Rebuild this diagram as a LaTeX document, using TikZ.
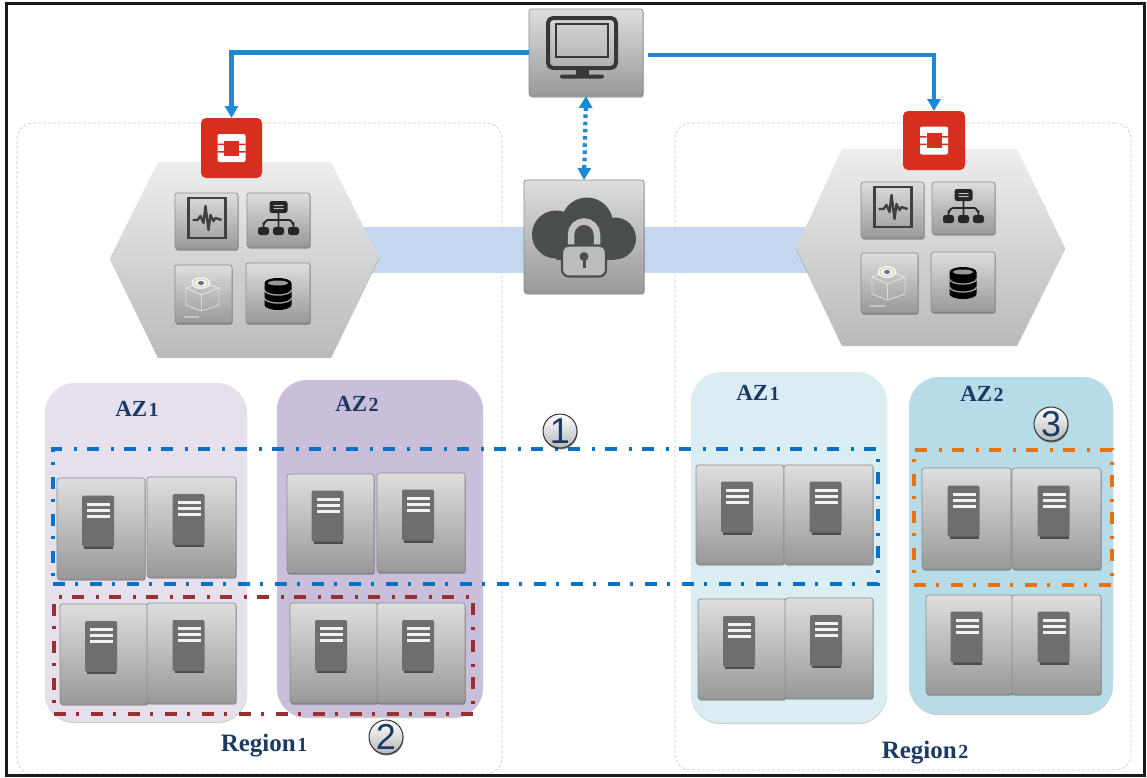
\documentclass[tikz,border=0pt]{standalone}
\usepackage{fontspec}
\usepackage{tikz}
\usetikzlibrary{shadows}
\usetikzlibrary{arrows.meta}
\usetikzlibrary{fit}
\newfontfamily\numfont{Liberation Sans}
\newfontfamily\labelfont{Liberation Serif}
\definecolor{linkblue}{HTML}{1F88D4}
\definecolor{navy}{HTML}{1B3A63}
\definecolor{bandblue}{HTML}{BDD2EC}
\definecolor{logored}{HTML}{D62E1F}
\definecolor{srvgrey}{HTML}{6D6E70}
\definecolor{clouddark}{HTML}{4A4E4F}
\definecolor{azpalea}{HTML}{E6DFEC}
\definecolor{azpaleb}{HTML}{CABFDA}
\definecolor{azbluea}{HTML}{DAEDF3}
\definecolor{azblueb}{HTML}{B7DCE7}
\definecolor{dashblue}{HTML}{0A70C4}
\definecolor{dashred}{HTML}{983030}
\definecolor{dashorange}{HTML}{E8700F}
\newcommand{\lownum}[1]{\hspace{1.5pt}{\fontsize{20}{20}\selectfont #1}}

\tikzset{
	boxfit/.style={inner sep=0,outer sep=0},
	btn/.style={boxfit,draw=gray!90,line width=.7pt,rounded corners=2.5pt,top color=black!13,bottom color=black!40,
		drop shadow={shadow xshift=.6pt,shadow yshift=-1.6pt,opacity=.35,fill=black}},
	region/.style={boxfit,draw=gray!45,densely dashed,line width=.6pt,rounded corners=16pt},
	azone/.style={boxfit,rounded corners=30pt,drop shadow={shadow xshift=0pt,shadow yshift=-1.2pt,opacity=.2,fill=black}},
	redbtn/.style={boxfit,fill=logored,rounded corners=5pt},
	hexface/.style={top color=black!7,bottom color=black!27,drop shadow={shadow xshift=0pt,shadow yshift=-1.2pt,opacity=.25,fill=black}},
	link/.style={draw=linkblue,line width=4.2pt,-{Triangle[length=12pt,width=13pt]}},
	dotlink/.style={draw=linkblue,line width=4.2pt,dash pattern=on 3.6pt off 3.6pt,{Triangle[length=12pt,width=13pt]}-{Triangle[length=12pt,width=13pt]}},
	dashbox/.style={boxfit,line width=3.5pt,dash pattern=on 12pt off 10pt on 3pt off 12pt},
	azlabel/.style={text=navy,font=\labelfont\bfseries\fontsize{23}{26}\selectfont,inner sep=0},
	reglabel/.style={text=navy,font=\labelfont\bfseries\fontsize{25}{28}\selectfont,inner sep=0},
	numcirc/.style={circle,draw=black!80,line width=1pt,minimum size=34pt,inner sep=0,text=navy,
		top color=white,bottom color=black!28,font=\numfont\fontsize{36}{36}\selectfont,
		drop shadow={shadow xshift=.5pt,shadow yshift=-1.5pt,opacity=.5,fill=black}},
	iconserver/.pic={
		\fill[black!70] (-17,15) rectangle (12,20);
		\fill[srvgrey,rounded corners=2pt] (-19,-33) rectangle (13,18);
		\foreach \y in {-26,-20,-14}
			\fill[white!95!black] (-14,\y) rectangle (9,\y+3);
	},
	iconwave/.pic={
		\draw[black!75,line width=2.4pt] (-18,-23) rectangle (19,17);
		\draw[black!75,line width=2.4pt,line join=round] (-14,-1) -- (-9,-1) -- (-6,-5) -- (-3,2) -- (-1,-15) -- (2,9) -- (4,-6) -- (7,0) -- (9,-3) -- (15,-1);
	},
	icontree/.pic={
		\fill[black!85,rounded corners=2.5pt] (-9,-19) rectangle (9,-7);
		\fill[black!25] (-5,-15) rectangle (5,-14) (-5,-12) rectangle (5,-11);
		\draw[black!85,line width=1.8pt] (0,-7) -- (0,9) (-15,9) -- (-15,4) to[out=-90,in=180] (-11,0) -- (11,0) to[out=0,in=-90] (15,4) -- (15,9);
		\foreach \x in {-15,0,15}
			\fill[black!85,rounded corners=2.5pt] (\x-5.5,7) rectangle (\x+5.5,15);
	},
	iconcube/.pic={
		\draw[white,opacity=.55,line width=.9pt] (-17.5,-6) -- (-2,-12) -- (15.5,-6) -- (15.5,11) -- (-2,17) -- (-17.5,11) -- cycle (-17.5,-6) -- (-2,1) -- (15.5,-6) (-2,1) -- (-2,17);
		\fill[white!90!gray] (-2.5,-11) ellipse (9.5 and 6);
		\draw[yellow!45!gray,line width=.7pt,opacity=.7] (-2.5,-11) ellipse (7 and 4);
		\fill[blue!15!gray] (-2.5,-11) ellipse (3 and 2);
		\fill[white,opacity=.4] (-20,22) rectangle (-5,24);
	},
	icondb/.pic={
		\begin{scope}[yshift=-1pt]
		\fill[black] (-13.5,-11) -- (-13.5,11) arc[start angle=180,end angle=0,x radius=13.5,y radius=5] -- (13.5,-11) arc[start angle=0,end angle=-180,x radius=13.5,y radius=5];
		\fill[black!40] (0,-11) ellipse (10 and 2.5);
		\draw[black!35,line width=1.3pt] (-13.5,-4) arc[start angle=180,end angle=0,x radius=13.5,y radius=5];
		\draw[black!35,line width=1.3pt] (-13.5,4) arc[start angle=180,end angle=0,x radius=13.5,y radius=5];
		\end{scope}
	},
	iconscreen/.pic={
		\draw[black!78,line width=4pt,rounded corners=5pt] (-38,-34.5) rectangle (30,15.5);
		\draw[black!78,line width=1.8pt] (-30,-28.5) rectangle (22,4.5);
		\fill[black!78] (-10,15) rectangle (3,23);
		\fill[black!78,rounded corners=2pt] (-26,22) rectangle (18,26);
	},
	iconcloud/.pic={
		\fill[clouddark] (-28,-2) circle (24);
		\fill[clouddark] (3,-13) circle (26);
		\fill[clouddark] (31,2) circle (21);
		\fill[clouddark] (-28,-2) rectangle (31,23);
		\draw[black!24,line width=6.5pt] (-13,10) -- (-13,-2) arc[start angle=180,end angle=360,radius=13] -- (13,10);
		\draw[clouddark,line width=2.2pt,fill=black!26,rounded corners=7pt] (-22,9) rectangle (22,40);
		\fill[clouddark] (0,20) circle (4.5);
		\draw[clouddark,line width=3pt] (0,20) -- (0,31);
	},
	iconlogo/.pic={
		\fill[white,rounded corners=2pt] (-14,-14) rectangle (14,14);
		\fill[logored] (-7.5,-7.5) rectangle (7.5,7.5);
		\fill[logored] (-14,-4.5) rectangle (-7.5,-3) (7.5,-4.5) rectangle (14,-3) (-14,3) rectangle (-7.5,4.5) (7.5,3) rectangle (14,4.5);
	}
}
\newcommand{\serverbtn}[5]{
	\node[btn,fit={(#2,#3) (#4,#5)}] (#1) {};
	\pic at (#1) {iconserver};
}
\newcommand{\iconbtn}[6]{
	\node[btn,fit={(#2,#3) (#4,#5)}] (#1) {};
	\pic at (#1) {#6};
}

\begin{document}
\begin{tikzpicture}[x=1pt,y=-1pt]
\useasboundingbox (0,0) rectangle (1147,777);

% regions
\node[region,fit={(17,123) (502,774)}] (region1) {};
\node[region,fit={(675,123) (1131,770)}] (region2) {};

% link between the two regions
\coordinate (bandl) at (360,250);
\coordinate (bandr) at (815,250);
\draw[bandblue,line width=46pt,opacity=.88] (bandl) -- (bandr);

% control planes
\path[hexface] (110,258) -- (158,162) -- (331,162) -- (379,258) -- (331,357) -- (158,357) -- cycle;
\path[hexface] (796,248) -- (842,149) -- (1017,149) -- (1065,248) -- (1017,345) -- (842,345) -- cycle;

\iconbtn{wavel}{175}{193}{238}{249}{iconwave}
\iconbtn{treel}{247}{193}{310}{247}{icontree}
\iconbtn{cubel}{175}{265}{232}{323}{iconcube}
\iconbtn{dbl}{246}{263}{310}{323}{icondb}
\iconbtn{waver}{861}{182}{924}{238}{iconwave}
\iconbtn{treer}{932}{182}{995}{234}{icontree}
\iconbtn{cuber}{861}{253}{918}{313}{iconcube}
\iconbtn{dbr}{931}{252}{995}{312}{icondb}

\node[redbtn,fit={(201,118) (262,178)}] (logol) {};
\pic at (logol) {iconlogo};
\node[redbtn,fit={(903,111) (965,170)}] (logor) {};
\pic at (logor) {iconlogo};

% dashboard and vpn
\iconbtn{screen}{529}{9}{643}{96}{iconscreen}
\iconbtn{vpn}{524}{180}{644}{293}{iconcloud}

\draw[link] (screen.west) -| (logol.north);
\draw[link,shorten <=5pt] ([yshift=-2.5pt]screen.east) -| (logor.north);
\draw[dotlink] (screen.south) -- (vpn.north);

% availability zones
\node[azone,fill=azpalea,fit={(45,383) (247,722)}] (az1a) {};
\node[azone,fill=azpaleb,fit={(277,380) (483,717)}] (az1b) {};
\node[azone,fill=azbluea,fit={(691,372) (887,723)}] (az2a) {};
\node[azone,fill=azblueb,fit={(909,377) (1113,714)}] (az2b) {};

\node[azlabel] (lab1a) at (137,409) {AZ\lownum{1}};
\node[azlabel] (lab1b) at (357,404) {AZ\lownum{2}};
\node[azlabel] (lab2a) at (758,393) {AZ\lownum{1}};
\node[azlabel] (lab2b) at (982,394) {AZ\lownum{2}};
\node[reglabel] (lab1) at (264,746) {Region\lownum{1}};
\node[reglabel] (lab2) at (925,753) {Region\lownum{2}};

% servers
\serverbtn{s1}{57}{478}{145}{579}
\serverbtn{s2}{147}{477}{236}{577}
\serverbtn{s3}{287}{474}{374}{573}
\serverbtn{s4}{377}{473}{465}{572}
\serverbtn{s5}{60}{604}{148}{704}
\serverbtn{s6}{147}{603}{236}{703}
\serverbtn{s7}{290}{603}{378}{703}
\serverbtn{s8}{377}{603}{465}{703}
\serverbtn{s9}{696}{465}{784}{564}
\serverbtn{s10}{784}{465}{873}{564}
\serverbtn{s11}{698}{599}{786}{699}
\serverbtn{s12}{785}{598}{873}{698}
\serverbtn{s13}{922}{468}{1011}{569}
\serverbtn{s14}{1012}{468}{1101}{569}
\serverbtn{s15}{926}{595}{1013}{694}
\serverbtn{s16}{1012}{595}{1101}{694}

% failure domains
\node[dashbox,draw=dashblue,fit={(53,449) (878,584)}] (dom1) {};
\node[dashbox,draw=dashred,fit={(54,597) (473,714)}] (dom2) {};
\node[dashbox,draw=dashorange,fit={(914,450) (1112,585)}] (dom3) {};

\node[numcirc] (c1) at (560,431) {1};
\node[numcirc] (c2) at (386,737) {2};
\node[numcirc] (c3) at (1051,424) {3};

% frame
\node[boxfit,draw=black!90,line width=3pt,fit={(6,3) (1144,775)}] (frame) {};
\end{tikzpicture}
\end{document}
